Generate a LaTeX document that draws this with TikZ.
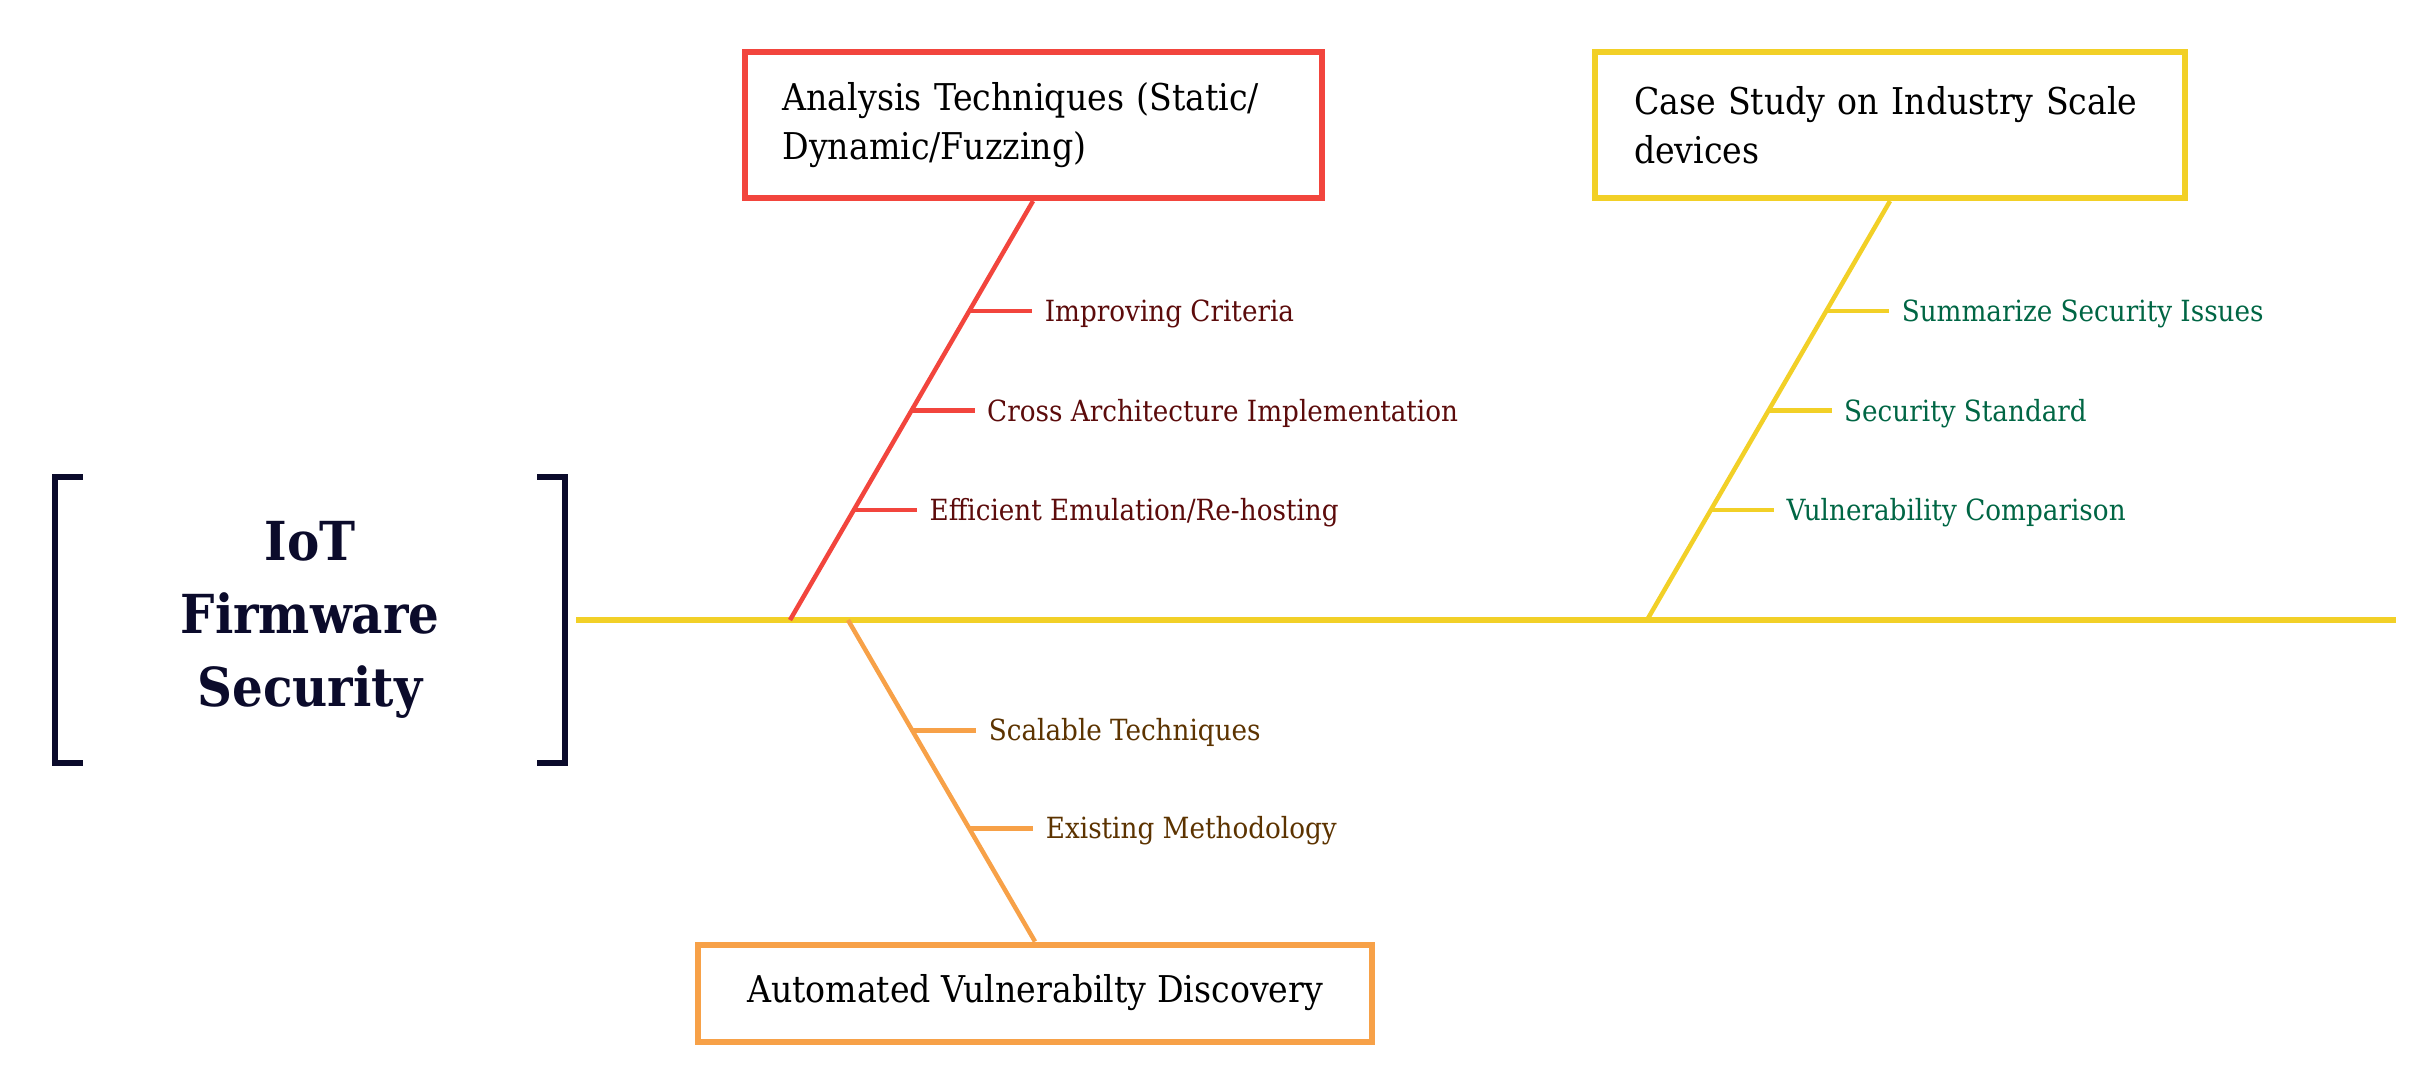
\documentclass[tikz,border=0pt]{standalone}
\usepackage{fontspec}
\setmainfont{DejaVu Serif Condensed}
\usetikzlibrary{positioning,calc}

\definecolor{redc}{HTML}{F2453D}
\definecolor{yellowc}{HTML}{F2D027}
\definecolor{orangec}{HTML}{F7A148}
\definecolor{navyc}{HTML}{0B0B2B}
\definecolor{redtxt}{HTML}{5C0B0B}
\definecolor{greentxt}{HTML}{006644}
\definecolor{browntxt}{HTML}{5C3300}

\tikzset{
  bigbox/.style={draw=#1, line width=0.6mm, fill=white, minimum height=14.6mm,
    font=\fontsize{10.5}{13.8}\selectfont, inner ysep=0pt},
  bone/.style={draw=#1, line width=0.45mm},
  lbl/.style={inner sep=0pt, anchor=west, text height=2.1mm, text depth=0pt,
    font=\fontsize{8.3}{10}\selectfont, text=#1},
}

\begin{document}
\begin{tikzpicture}[x=0.1mm,y=-0.1mm]
    \useasboundingbox (0,0) rectangle (2435,1083);

    % Head of the fish
    \node[minimum width=50.9mm, minimum height=28.5mm, inner sep=0pt, align=center,
      text=navyc, font=\fontsize{15.3}{20.8}\selectfont\bfseries] (title) at (310,620)
      {IoT\\Firmware\\Security};
    \draw[navyc, line width=0.57mm] ($(title.north west)+(28,0)$) -- (title.north west)
      -- (title.south west) -- ($(title.south west)+(28,0)$);
    \draw[navyc, line width=0.57mm] ($(title.north east)+(-28,0)$) -- (title.north east)
      -- (title.south east) -- ($(title.south east)+(-28,0)$);

    % Spine
    \coordinate (tail) at (576,620);
    \coordinate (head) at (2396,620);
    \draw[yellowc, line width=0.55mm] (tail) -- (head);

    % Category boxes
    \node[bigbox=redc, minimum width=57.7mm, text width=50.1mm, inner xsep=3.8mm, align=left]
      (red) at (1033,125) {Analysis Techniques (Static/\\Dynamic/Fuzzing)};
    \node[bigbox=yellowc, minimum width=59mm, text width=51.2mm, inner xsep=3.9mm, align=left]
      (yellow) at (1890,125) {Case Study on Industry Scale\\devices};
    \node[bigbox=orangec, minimum width=67.4mm, minimum height=9.7mm, align=center]
      (orange) at (1035,993) {Automated Vulnerabilty Discovery};

    % Bones
    \coordinate (redfoot) at (790,620);
    \coordinate (yellowfoot) at (1647,620);
    \coordinate (orangefoot) at (848,620);
    \draw[bone=redc] (redfoot) -- (red.south);
    \draw[bone=yellowc] (yellowfoot) -- (yellow.south);
    \draw[bone=orangec] (orangefoot) -- (orange.north);

    % Ribs of the red bone
    \foreach \t/\i/\txt in {0.737/1/Improving Criteria, 0.5/2/Cross Architecture Implementation,
        0.263/3/{Efficient Emulation/Re-hosting}} {
        \coordinate (rr\i) at ($(redfoot)!\t!(red.south)$);
        \node[lbl=redtxt, right=7.5mm of rr\i] (rl\i) {\txt};
        \draw[bone=redc, shorten >=1.2mm] (rr\i) -- (rl\i.west);
      }

    % Ribs of the yellow bone
    \foreach \t/\i/\txt in {0.737/1/Summarize Security Issues, 0.5/2/Security Standard,
        0.263/3/Vulnerability Comparison} {
        \coordinate (yr\i) at ($(yellowfoot)!\t!(yellow.south)$);
        \node[lbl=greentxt, right=7.5mm of yr\i] (yl\i) {\txt};
        \draw[bone=yellowc, shorten >=1.2mm] (yr\i) -- (yl\i.west);
      }

    % Ribs of the orange bone
    \foreach \t/\i/\txt in {0.343/1/Scalable Techniques, 0.648/2/Existing Methodology} {
        \coordinate (or\i) at ($(orangefoot)!\t!(orange.north)$);
        \node[lbl=browntxt, right=7.6mm of or\i] (ol\i) {\txt};
        \draw[bone=orangec, shorten >=1.2mm] (or\i) -- (ol\i.west);
      }
  \end{tikzpicture}
\end{document}
